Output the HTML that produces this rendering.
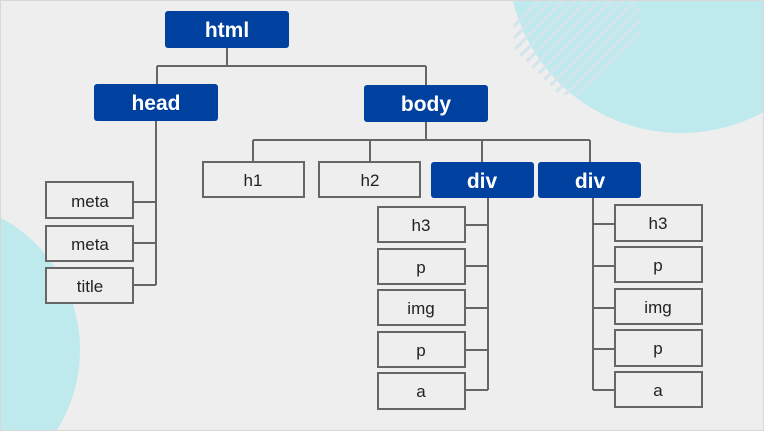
<!DOCTYPE html>
<html><head><meta charset="utf-8"><style>
html,body{margin:0;padding:0;width:764px;height:431px;overflow:hidden;}
body{background:#eeeeee;font-family:"Liberation Sans",sans-serif;}
svg{display:block;position:absolute;left:0;top:0;}
</style></head><body>
<svg width="764" height="431" viewBox="0 0 764 431" xmlns="http://www.w3.org/2000/svg">
<defs>
<clipPath id="sc"><polygon points="512,0 640,0 640,40 580,95 560,95 515,50"/></clipPath>
</defs>
<rect x="0" y="0" width="764" height="431" fill="#eeeeee"/>
<circle cx="681" cy="-40" r="173" fill="#bfeaed"/>
<circle cx="-70" cy="350" r="150" fill="#bfeaed"/>
<g clip-path="url(#sc)" stroke="#d3e4ec" stroke-width="3">
<line x1="440" y1="100" x2="550" y2="-10"/><line x1="452" y1="100" x2="562" y2="-10"/>
<line x1="464" y1="100" x2="574" y2="-10"/><line x1="476" y1="100" x2="586" y2="-10"/>
<line x1="488" y1="100" x2="598" y2="-10"/><line x1="500" y1="100" x2="610" y2="-10"/>
<line x1="512" y1="100" x2="622" y2="-10"/><line x1="524" y1="100" x2="634" y2="-10"/>
<line x1="536" y1="100" x2="646" y2="-10"/><line x1="548" y1="100" x2="658" y2="-10"/>
<line x1="560" y1="100" x2="670" y2="-10"/><line x1="572" y1="100" x2="682" y2="-10"/>
</g>
<rect x="0.5" y="0.5" width="763" height="430" fill="none" stroke="#d8d8d8"/>
<g stroke="#666" stroke-width="2" fill="none">
<path d="M227 48V66M157 66H426M157 66V84M426 66V85"/>
<path d="M426 122V140M253 140H590M253 140V162M370 140V162M482 140V162M590 140V162"/>
<path d="M156 121V285M133 202H156M133 243H156M133 285H156"/>
<path d="M488 198V390M465 225H488M465 266H488M465 308H488M465 350H488M465 390H488"/>
<path d="M593 198V390M593 224H615M593 266H615M593 308H615M593 349H615M593 390H615"/>
</g>
<g fill="#0041a0">
<rect x="165" y="11" width="124" height="37" rx="3"/>
<rect x="94" y="84" width="124" height="37" rx="3"/>
<rect x="364" y="85" width="124" height="37" rx="3"/>
<rect x="431" y="162" width="103" height="36" rx="3"/>
<rect x="538" y="162" width="103" height="36" rx="3"/>
</g>
<g fill="#fff" font-weight="bold" font-size="21" text-anchor="middle">
<text x="227" y="37">html</text>
<text x="156" y="110">head</text>
<text x="426" y="111">body</text>
<text x="482" y="188">div</text>
<text x="590" y="188">div</text>
</g>
<g fill="#eeeeee" stroke="#666" stroke-width="2">
<rect x="203" y="162" width="101" height="35"/>
<rect x="319" y="162" width="101" height="35"/>
<rect x="46" y="182" width="87" height="36"/>
<rect x="46" y="226" width="87" height="35"/>
<rect x="46" y="268" width="87" height="35"/>
<rect x="378" y="207" width="87" height="35"/>
<rect x="378" y="249" width="87" height="35"/>
<rect x="378" y="290" width="87" height="35"/>
<rect x="378" y="332" width="87" height="35"/>
<rect x="378" y="373" width="87" height="36"/>
<rect x="615" y="205" width="87" height="36"/>
<rect x="615" y="247" width="87" height="35"/>
<rect x="615" y="289" width="87" height="35"/>
<rect x="615" y="330" width="87" height="36"/>
<rect x="615" y="372" width="87" height="35"/>
</g>
<g fill="#222" font-size="17" text-anchor="middle">
<text x="253" y="186">h1</text>
<text x="370" y="186">h2</text>
<text x="90" y="207">meta</text>
<text x="90" y="250">meta</text>
<text x="90" y="292">title</text>
<text x="421" y="231">h3</text>
<text x="421" y="273">p</text>
<text x="421" y="314">img</text>
<text x="421" y="356">p</text>
<text x="421" y="397">a</text>
<text x="658" y="229">h3</text>
<text x="658" y="271">p</text>
<text x="658" y="313">img</text>
<text x="658" y="354">p</text>
<text x="658" y="396">a</text>
</g>
</svg>
</body></html>
